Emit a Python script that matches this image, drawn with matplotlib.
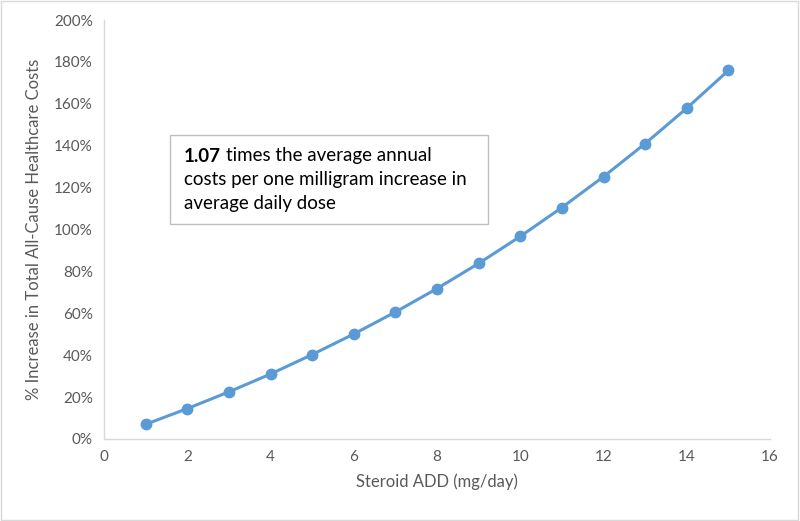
import matplotlib
matplotlib.use("Agg")
import matplotlib.pyplot as plt
from matplotlib.ticker import FuncFormatter
from matplotlib.patches import Rectangle

dose = [1, 2, 3, 4, 5, 6, 7, 8, 9, 10, 11, 12, 13, 14, 15]
pct_increase = [0.07, 0.145, 0.225, 0.31, 0.403, 0.501, 0.606, 0.718, 0.838,
                0.967, 1.105, 1.252, 1.41, 1.579, 1.759]

plt.rcParams['font.family'] = ['Lato', 'DejaVu Sans']
gray = '#595959'
blue = '#5B9BD5'

fig = plt.figure(figsize=(8, 5.21), dpi=100)
ax = fig.add_axes([0.13, 0.1574, 0.8325, 0.8042])

ax.plot(dose, pct_increase, color=blue, lw=2.2, marker='o', ms=7.5, zorder=3)

ax.set_xlim(0, 16)
ax.set_ylim(0, 2.0)
ax.set_xticks(range(0, 17, 2))
ax.set_yticks([i * 0.2 for i in range(11)])
ax.yaxis.set_major_formatter(FuncFormatter(lambda v, p: f"{v*100:.0f}%"))

for s in ['top', 'right']:
    ax.spines[s].set_visible(False)
for s in ['left', 'bottom']:
    ax.spines[s].set_color('#D9D9D9')
    ax.spines[s].set_linewidth(1.0)
ax.tick_params(length=0, labelsize=11, colors=gray, pad=8)

ax.set_xlabel('Steroid ADD (mg/day)', fontsize=12, color=gray, labelpad=7)
ax.set_ylabel('% Increase in Total All-Cause Healthcare Costs', fontsize=12,
              color=gray, labelpad=9)

# annotation box (in pixel-based figure coords)
W, H = 800, 521
box = Rectangle((170 / W, 1 - 224 / H), (488 - 170) / W, (224 - 135) / H,
                transform=fig.transFigure, facecolor='white', edgecolor='#BFBFBF',
                lw=1.0, zorder=5)
fig.add_artist(box)
x0 = 184 / W
fs = 13.5
t_bold = fig.text(x0, 1 - 156 / H, '1.07', fontsize=fs, fontweight='bold',
                  color='black', va='center', ha='left', zorder=6)
fig.canvas.draw()
bb = t_bold.get_window_extent(renderer=fig.canvas.get_renderer())
x1 = (bb.x1 + 5) / W
fig.text(x1, 1 - 156 / H, 'times the average annual', fontsize=fs,
         color='black', va='center', ha='left', zorder=6)
fig.text(x0, 1 - 180 / H, 'costs per one milligram increase in', fontsize=fs,
         color='black', va='center', ha='left', zorder=6)
fig.text(x0, 1 - 204 / H, 'average daily dose', fontsize=fs,
         color='black', va='center', ha='left', zorder=6)

# outer border
fig.add_artist(Rectangle((0.001, 0.001), 0.997, 0.997, transform=fig.transFigure,
                         fill=False, edgecolor='#D9D9D9', lw=1.0))

fig.savefig('out.png', dpi=100)
